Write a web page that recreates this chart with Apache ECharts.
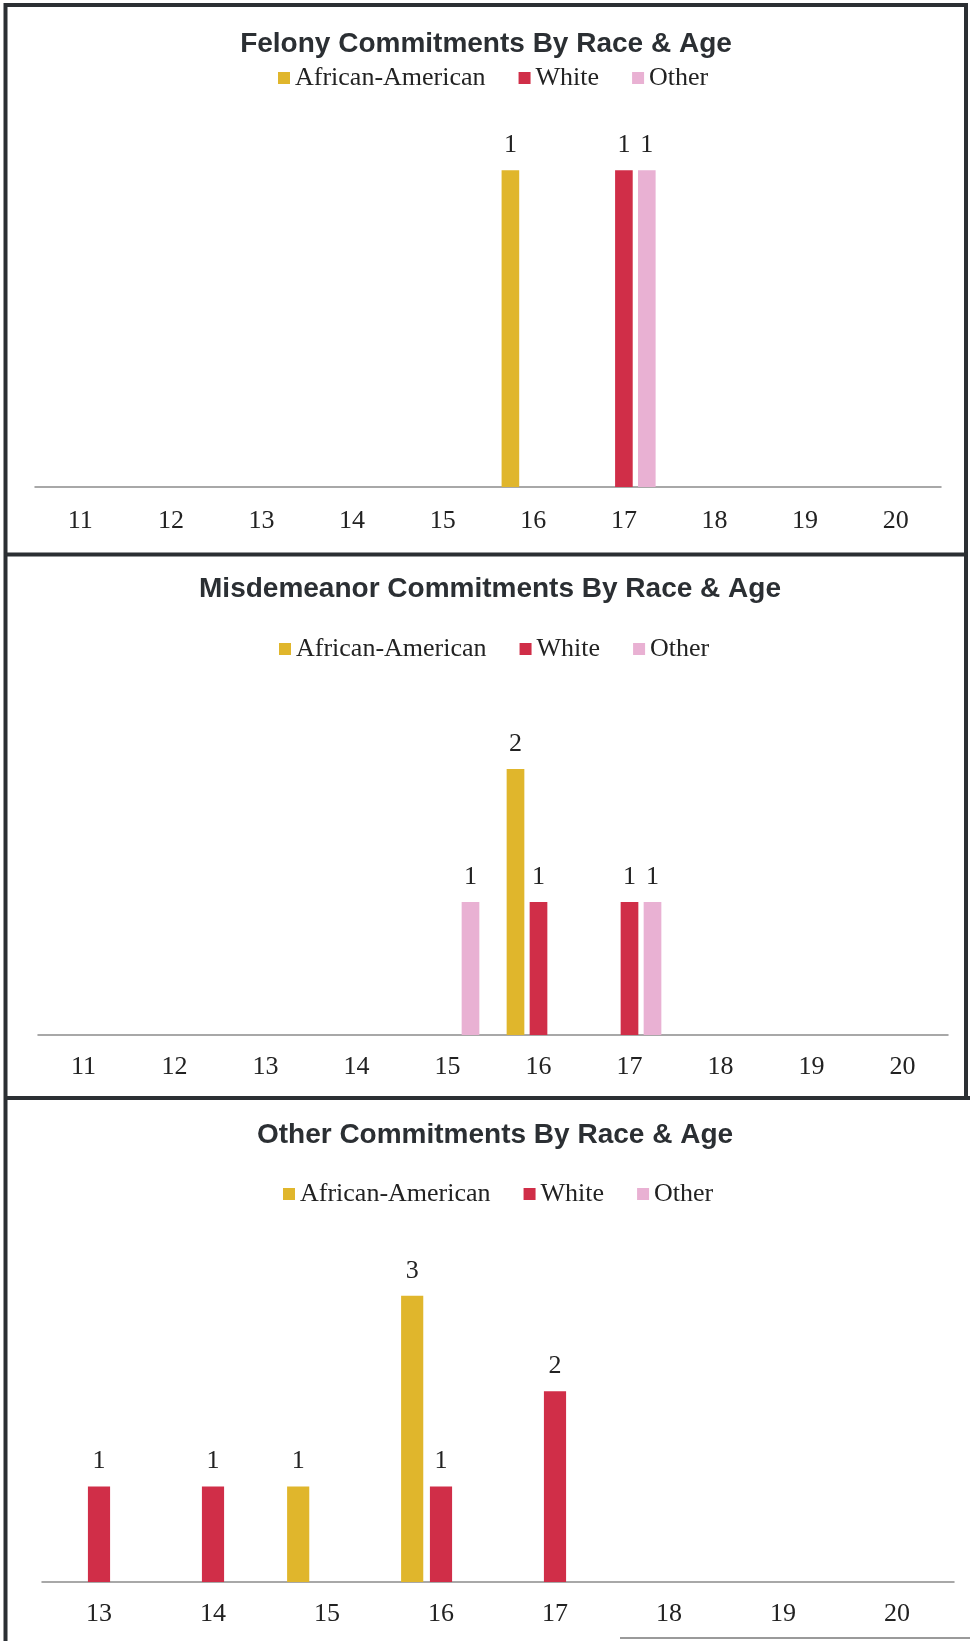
<!DOCTYPE html>
<html>
<head>
<meta charset="utf-8">
<script src="https://cdn.jsdelivr.net/npm/echarts@6/dist/echarts.min.js"></script>
<style>
  html, body { margin: 0; padding: 0; background: #ffffff; }
  #chart { width: 970px; height: 1641px; }
</style>
</head>
<body>
<div id="chart"></div>
<script>
// ---- Data ----
const seriesNames = ['African-American', 'White', 'Other'];
const titles = [
  'Felony Commitments By Race & Age',
  'Misdemeanor Commitments By Race & Age',
  'Other Commitments By Race & Age'
];

// Panel 1: Felony
const felonyAges = ['11', '12', '13', '14', '15', '16', '17', '18', '19', '20'];
const felonyAfricanAmerican = [null, null, null, null, null, 1, null, null, null, null];
const felonyWhite           = [null, null, null, null, null, null, 1, null, null, null];
const felonyOther           = [null, null, null, null, null, null, 1, null, null, null];

// Panel 2: Misdemeanor
const misdAges = ['11', '12', '13', '14', '15', '16', '17', '18', '19', '20'];
const misdAfricanAmerican = [null, null, null, null, null, 2, null, null, null, null];
const misdWhite           = [null, null, null, null, null, 1, 1, null, null, null];
const misdOther           = [null, null, null, null, 1, null, 1, null, null, null];

// Panel 3: Other
const otherAges = ['13', '14', '15', '16', '17', '18', '19', '20'];
const otherAfricanAmerican = [null, null, 1, 3, null, null, null, null];
const otherWhite           = [1, 1, null, 1, 2, null, null, null];
const otherOther           = [null, null, null, null, null, null, null, null];

// ---- Styling ----
const colors = ['#E0B62C', '#D02E48', '#E9B1D3'];
const serif = '"Liberation Serif", "Times New Roman", serif';
const sans = '"Liberation Sans", Arial, sans-serif';
const textColor = '#222222';
const borderColor = '#2b2f33';

const panels = [
  { cats: felonyAges, data: [felonyAfricanAmerican, felonyWhite, felonyOther],
    grid: { left: 35, right: 29, top: 107, height: 380 }, max: 1.2,
    titleX: 486, titleY: 45, legendLeft: 278, legendTop: 65, labelMargin: 21 },
  { cats: misdAges, data: [misdAfricanAmerican, misdWhite, misdOther],
    grid: { left: 38, right: 22, top: 702.5, height: 332.5 }, max: 2.5,
    titleX: 490, titleY: 590, legendLeft: 279, legendTop: 636, labelMargin: 19 },
  { cats: otherAges, data: [otherAfricanAmerican, otherWhite, otherOther],
    grid: { left: 42, right: 16, top: 1248, height: 334 }, max: 3.5,
    titleX: 495, titleY: 1136, legendLeft: 283, legendTop: 1181, labelMargin: 19 }
];

const option = {
  backgroundColor: '#ffffff',
  animation: false,
  title: panels.map((p, i) => ({
    text: titles[i],
    left: p.titleX,
    top: p.titleY - 15,
    textAlign: 'center',
    padding: 0,
    textStyle: { fontFamily: sans, fontWeight: 'bold', fontSize: 28, color: borderColor }
  })),
  legend: panels.map((p) => ({
    data: seriesNames,
    left: p.legendLeft,
    top: p.legendTop,
    padding: 0,
    icon: 'rect',
    itemWidth: 12,
    itemHeight: 12,
    itemGap: 33,
    selectedMode: false,
    textStyle: { fontFamily: serif, fontSize: 26, color: textColor }
  })),
  grid: panels.map((p) => p.grid),
  xAxis: panels.map((p, i) => ({
    type: 'category',
    gridIndex: i,
    data: p.cats,
    axisLine: { show: true, lineStyle: { color: '#8c8c8c', width: 1.5 } },
    axisTick: { show: false },
    axisLabel: { fontFamily: serif, fontSize: 26, color: textColor, margin: p.labelMargin },
    splitLine: { show: false }
  })),
  yAxis: panels.map((p, i) => ({
    type: 'value',
    gridIndex: i,
    min: 0,
    max: p.max,
    show: false,
    splitLine: { show: false }
  })),
  series: [],
  graphic: [
    // panel borders
    { type: 'line', shape: { x1: 5.5, y1: 3, x2: 5.5, y2: 1641 }, style: { stroke: borderColor, lineWidth: 4 } },
    { type: 'line', shape: { x1: 4, y1: 5, x2: 968, y2: 5 }, style: { stroke: borderColor, lineWidth: 4 } },
    { type: 'line', shape: { x1: 966, y1: 3, x2: 966, y2: 1100 }, style: { stroke: borderColor, lineWidth: 4 } },
    { type: 'line', shape: { x1: 4, y1: 554.5, x2: 968, y2: 554.5 }, style: { stroke: borderColor, lineWidth: 4 } },
    { type: 'line', shape: { x1: 4, y1: 1098, x2: 970, y2: 1098 }, style: { stroke: borderColor, lineWidth: 4 } },
    { type: 'line', shape: { x1: 620, y1: 1638, x2: 970, y2: 1638 }, style: { stroke: '#9a9a9a', lineWidth: 2 } }
  ]
};

panels.forEach((p, i) => {
  seriesNames.forEach((name, s) => {
    option.series.push({
      type: 'bar',
      name: name,
      xAxisIndex: i,
      yAxisIndex: i,
      data: p.data[s],
      barGap: '30%',
      barCategoryGap: '30%',
      itemStyle: { color: colors[s] },
      label: {
        show: true,
        position: 'top',
        distance: 12,
        fontFamily: serif,
        fontSize: 26,
        color: textColor
      }
    });
  });
});

const chart = echarts.init(document.getElementById('chart'), null, { renderer: 'canvas' });
chart.setOption(option);
</script>
</body>
</html>
